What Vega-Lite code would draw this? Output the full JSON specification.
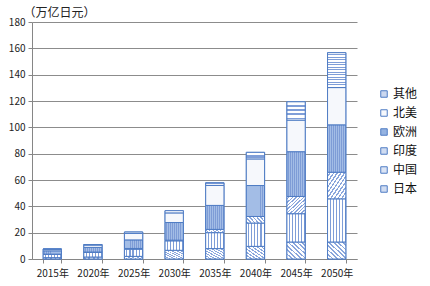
{
  "$schema": "https://vega.github.io/schema/vega-lite/v6.json",
  "autosize": {"type": "none"},
  "padding": {"left": 32, "top": 22, "right": 73, "bottom": 27},
  "width": 325,
  "height": 237,
  "background": "#ffffff",
  "config": {
    "view": {"stroke": null},
    "font": "Noto Sans CJK SC",
    "axis": {"labelFont": "Noto Sans CJK SC", "titleFont": "Noto Sans CJK SC"},
    "legend": {"labelFont": "Noto Sans CJK SC"}
  },
  "data": {
    "values": [
      {"year": "2015年", "country": "日本", "value": 1.0},
      {"year": "2015年", "country": "中国", "value": 2.5},
      {"year": "2015年", "country": "印度", "value": 0.2},
      {"year": "2015年", "country": "欧洲", "value": 2.5},
      {"year": "2015年", "country": "北美", "value": 1.2},
      {"year": "2015年", "country": "其他", "value": 0.2},
      {"year": "2020年", "country": "日本", "value": 1.5},
      {"year": "2020年", "country": "中国", "value": 3.5},
      {"year": "2020年", "country": "印度", "value": 0.3},
      {"year": "2020年", "country": "欧洲", "value": 3.5},
      {"year": "2020年", "country": "北美", "value": 1.8},
      {"year": "2020年", "country": "其他", "value": 0.4},
      {"year": "2025年", "country": "日本", "value": 2.0},
      {"year": "2025年", "country": "中国", "value": 5.5},
      {"year": "2025年", "country": "印度", "value": 0.5},
      {"year": "2025年", "country": "欧洲", "value": 6.5},
      {"year": "2025年", "country": "北美", "value": 5.0},
      {"year": "2025年", "country": "其他", "value": 1.0},
      {"year": "2030年", "country": "日本", "value": 6.6},
      {"year": "2030年", "country": "中国", "value": 7.2},
      {"year": "2030年", "country": "印度", "value": 0.5},
      {"year": "2030年", "country": "欧洲", "value": 13.4},
      {"year": "2030年", "country": "北美", "value": 7.3},
      {"year": "2030年", "country": "其他", "value": 1.7},
      {"year": "2035年", "country": "日本", "value": 7.9},
      {"year": "2035年", "country": "中国", "value": 12.1},
      {"year": "2035年", "country": "印度", "value": 2.5},
      {"year": "2035年", "country": "欧洲", "value": 18.2},
      {"year": "2035年", "country": "北美", "value": 15.2},
      {"year": "2035年", "country": "其他", "value": 2.0},
      {"year": "2040年", "country": "日本", "value": 9.6},
      {"year": "2040年", "country": "中国", "value": 17.7},
      {"year": "2040年", "country": "印度", "value": 5.0},
      {"year": "2040年", "country": "欧洲", "value": 23.5},
      {"year": "2040年", "country": "北美", "value": 20.2},
      {"year": "2040年", "country": "其他", "value": 5.0},
      {"year": "2045年", "country": "日本", "value": 12.9},
      {"year": "2045年", "country": "中国", "value": 21.5},
      {"year": "2045年", "country": "印度", "value": 13.1},
      {"year": "2045年", "country": "欧洲", "value": 34.0},
      {"year": "2045年", "country": "北美", "value": 24.0},
      {"year": "2045年", "country": "其他", "value": 13.9},
      {"year": "2050年", "country": "日本", "value": 12.9},
      {"year": "2050年", "country": "中国", "value": 32.8},
      {"year": "2050年", "country": "印度", "value": 20.2},
      {"year": "2050年", "country": "欧洲", "value": 36.0},
      {"year": "2050年", "country": "北美", "value": 28.3},
      {"year": "2050年", "country": "其他", "value": 26.5}
    ]
  },
  "transform": [
    {"calculate": "indexof(['日本','中国','印度','欧洲','北美','其他'], datum.country)", "as": "stackIndex"}
  ],
  "encoding": {
    "x": {
      "field": "year", "type": "nominal", "title": null,
      "scale": {"paddingInner": 0.55, "paddingOuter": 0.275},
      "axis": {
        "labelAngle": 0, "labelFontSize": 10, "labelColor": "#222222",
        "domainColor": "#868686", "tickColor": "#868686", "tickBand": "extent",
        "tickSize": 4, "labelPadding": 5
      }
    },
    "y": {
      "field": "value", "type": "quantitative", "stack": "zero",
      "scale": {"domain": [0, 180]},
      "axis": {
        "values": [0, 20, 40, 60, 80, 100, 120, 140, 160, 180],
        "title": "（万亿日元）", "titleAngle": 0, "titleX": -9, "titleY": -10,
        "titleAlign": "left", "titleBaseline": "middle", "titleFontSize": 12,
        "titleFontWeight": "normal", "titleColor": "#222222",
        "labelFontSize": 10, "labelColor": "#222222", "labelPadding": 3,
        "domainColor": "#868686", "tickColor": "#868686", "tickSize": 4,
        "gridColor": "#8c8c8c", "gridWidth": 1
      }
    },
    "order": {"field": "stackIndex", "type": "quantitative", "sort": "ascending"},
    "detail": {"field": "country", "type": "nominal"}
  },
  "layer": [
    {
      "mark": {"type": "bar", "stroke": "#4f7cc4", "strokeWidth": 1},
      "encoding": {
        "color": {
          "field": "country", "type": "nominal", "title": null,
          "scale": {
            "domain": ["其他", "北美", "欧洲", "印度", "中国", "日本"],
            "range": ["#ccd8ef", "#f6f8fc", "#95b3e1", "#d0dcf1", "#dbe4f4", "#d0dcf1"]
          },
          "legend": {
            "orient": "none", "legendX": 346, "legendY": 66,
            "symbolType": "square", "symbolSize": 42, "symbolStrokeColor": "#4f7cc4", "symbolStrokeWidth": 1,
            "labelFontSize": 12, "labelColor": "#111111", "rowPadding": 7, "labelOffset": 3
          }
        }
      }
    },
    {
      "mark": {"type": "bar", "stroke": "#4f7cc4", "strokeWidth": 1},
      "encoding": {
        "fill": {
          "condition": [
            {"test": "datum.country === '其他'", "value": {"gradient": "linear", "x1": 0, "y1": 0, "x2": 0, "y2": 1, "stops": [
              {"offset": 0, "color": "#ffffff"}, {"offset": 0.0429, "color": "#ffffff"}, {"offset": 0.0429, "color": "#7f9ed8"}, {"offset": 0.0714, "color": "#7f9ed8"},
              {"offset": 0.0714, "color": "#ffffff"}, {"offset": 0.1143, "color": "#ffffff"}, {"offset": 0.1143, "color": "#7f9ed8"}, {"offset": 0.1429, "color": "#7f9ed8"},
              {"offset": 0.1429, "color": "#ffffff"}, {"offset": 0.1857, "color": "#ffffff"}, {"offset": 0.1857, "color": "#7f9ed8"}, {"offset": 0.2143, "color": "#7f9ed8"},
              {"offset": 0.2143, "color": "#ffffff"}, {"offset": 0.2571, "color": "#ffffff"}, {"offset": 0.2571, "color": "#7f9ed8"}, {"offset": 0.2857, "color": "#7f9ed8"},
              {"offset": 0.2857, "color": "#ffffff"}, {"offset": 0.3286, "color": "#ffffff"}, {"offset": 0.3286, "color": "#7f9ed8"}, {"offset": 0.3571, "color": "#7f9ed8"},
              {"offset": 0.3571, "color": "#ffffff"}, {"offset": 0.4, "color": "#ffffff"}, {"offset": 0.4, "color": "#7f9ed8"}, {"offset": 0.4286, "color": "#7f9ed8"},
              {"offset": 0.4286, "color": "#ffffff"}, {"offset": 0.4714, "color": "#ffffff"}, {"offset": 0.4714, "color": "#7f9ed8"}, {"offset": 0.5, "color": "#7f9ed8"},
              {"offset": 0.5, "color": "#ffffff"}, {"offset": 0.5429, "color": "#ffffff"}, {"offset": 0.5429, "color": "#7f9ed8"}, {"offset": 0.5714, "color": "#7f9ed8"},
              {"offset": 0.5714, "color": "#ffffff"}, {"offset": 0.6143, "color": "#ffffff"}, {"offset": 0.6143, "color": "#7f9ed8"}, {"offset": 0.6429, "color": "#7f9ed8"},
              {"offset": 0.6429, "color": "#ffffff"}, {"offset": 0.6857, "color": "#ffffff"}, {"offset": 0.6857, "color": "#7f9ed8"}, {"offset": 0.7143, "color": "#7f9ed8"},
              {"offset": 0.7143, "color": "#ffffff"}, {"offset": 0.7571, "color": "#ffffff"}, {"offset": 0.7571, "color": "#7f9ed8"}, {"offset": 0.7857, "color": "#7f9ed8"},
              {"offset": 0.7857, "color": "#ffffff"}, {"offset": 0.8286, "color": "#ffffff"}, {"offset": 0.8286, "color": "#7f9ed8"}, {"offset": 0.8571, "color": "#7f9ed8"},
              {"offset": 0.8571, "color": "#ffffff"}, {"offset": 0.9, "color": "#ffffff"}, {"offset": 0.9, "color": "#7f9ed8"}, {"offset": 0.9286, "color": "#7f9ed8"},
              {"offset": 0.9286, "color": "#ffffff"}, {"offset": 0.9714, "color": "#ffffff"}, {"offset": 0.9714, "color": "#7f9ed8"}, {"offset": 1, "color": "#7f9ed8"}
            ]}},
            {"test": "datum.country === '北美'", "value": "#f6f8fc"},
            {"test": "datum.country === '欧洲'", "value": {"gradient": "linear", "x1": 0, "y1": 0, "x2": 1, "y2": 0, "stops": [
              {"offset": 0, "color": "#a3bde6"}, {"offset": 0.0667, "color": "#a3bde6"}, {"offset": 0.0667, "color": "#7e9cd6"}, {"offset": 0.1111, "color": "#7e9cd6"},
              {"offset": 0.1111, "color": "#a3bde6"}, {"offset": 0.1778, "color": "#a3bde6"}, {"offset": 0.1778, "color": "#7e9cd6"}, {"offset": 0.2222, "color": "#7e9cd6"},
              {"offset": 0.2222, "color": "#a3bde6"}, {"offset": 0.2889, "color": "#a3bde6"}, {"offset": 0.2889, "color": "#7e9cd6"}, {"offset": 0.3333, "color": "#7e9cd6"},
              {"offset": 0.3333, "color": "#a3bde6"}, {"offset": 0.4, "color": "#a3bde6"}, {"offset": 0.4, "color": "#7e9cd6"}, {"offset": 0.4444, "color": "#7e9cd6"},
              {"offset": 0.4444, "color": "#a3bde6"}, {"offset": 0.5111, "color": "#a3bde6"}, {"offset": 0.5111, "color": "#7e9cd6"}, {"offset": 0.5556, "color": "#7e9cd6"},
              {"offset": 0.5556, "color": "#a3bde6"}, {"offset": 0.6222, "color": "#a3bde6"}, {"offset": 0.6222, "color": "#7e9cd6"}, {"offset": 0.6667, "color": "#7e9cd6"},
              {"offset": 0.6667, "color": "#a3bde6"}, {"offset": 0.7333, "color": "#a3bde6"}, {"offset": 0.7333, "color": "#7e9cd6"}, {"offset": 0.7778, "color": "#7e9cd6"},
              {"offset": 0.7778, "color": "#a3bde6"}, {"offset": 0.8444, "color": "#a3bde6"}, {"offset": 0.8444, "color": "#7e9cd6"}, {"offset": 0.8889, "color": "#7e9cd6"},
              {"offset": 0.8889, "color": "#a3bde6"}, {"offset": 0.9556, "color": "#a3bde6"}, {"offset": 0.9556, "color": "#7e9cd6"}, {"offset": 1, "color": "#7e9cd6"}
            ]}},
            {"test": "datum.country === '印度'", "value": {"gradient": "linear", "x1": 0, "y1": 0, "x2": 1, "y2": 1, "stops": [
              {"offset": 0, "color": "#ffffff"}, {"offset": 0.06, "color": "#ffffff"}, {"offset": 0.06, "color": "#8aa6dc"}, {"offset": 0.1, "color": "#8aa6dc"},
              {"offset": 0.1, "color": "#ffffff"}, {"offset": 0.16, "color": "#ffffff"}, {"offset": 0.16, "color": "#8aa6dc"}, {"offset": 0.2, "color": "#8aa6dc"},
              {"offset": 0.2, "color": "#ffffff"}, {"offset": 0.26, "color": "#ffffff"}, {"offset": 0.26, "color": "#8aa6dc"}, {"offset": 0.3, "color": "#8aa6dc"},
              {"offset": 0.3, "color": "#ffffff"}, {"offset": 0.36, "color": "#ffffff"}, {"offset": 0.36, "color": "#8aa6dc"}, {"offset": 0.4, "color": "#8aa6dc"},
              {"offset": 0.4, "color": "#ffffff"}, {"offset": 0.46, "color": "#ffffff"}, {"offset": 0.46, "color": "#8aa6dc"}, {"offset": 0.5, "color": "#8aa6dc"},
              {"offset": 0.5, "color": "#ffffff"}, {"offset": 0.56, "color": "#ffffff"}, {"offset": 0.56, "color": "#8aa6dc"}, {"offset": 0.6, "color": "#8aa6dc"},
              {"offset": 0.6, "color": "#ffffff"}, {"offset": 0.66, "color": "#ffffff"}, {"offset": 0.66, "color": "#8aa6dc"}, {"offset": 0.7, "color": "#8aa6dc"},
              {"offset": 0.7, "color": "#ffffff"}, {"offset": 0.76, "color": "#ffffff"}, {"offset": 0.76, "color": "#8aa6dc"}, {"offset": 0.8, "color": "#8aa6dc"},
              {"offset": 0.8, "color": "#ffffff"}, {"offset": 0.86, "color": "#ffffff"}, {"offset": 0.86, "color": "#8aa6dc"}, {"offset": 0.9, "color": "#8aa6dc"},
              {"offset": 0.9, "color": "#ffffff"}, {"offset": 0.96, "color": "#ffffff"}, {"offset": 0.96, "color": "#8aa6dc"}, {"offset": 1, "color": "#8aa6dc"}
            ]}},
            {"test": "datum.country === '中国'", "value": {"gradient": "linear", "x1": 0, "y1": 0, "x2": 1, "y2": 0, "stops": [
              {"offset": 0, "color": "#ffffff"}, {"offset": 0.1083, "color": "#ffffff"}, {"offset": 0.1083, "color": "#7f9ed8"}, {"offset": 0.1667, "color": "#7f9ed8"},
              {"offset": 0.1667, "color": "#ffffff"}, {"offset": 0.275, "color": "#ffffff"}, {"offset": 0.275, "color": "#7f9ed8"}, {"offset": 0.3333, "color": "#7f9ed8"},
              {"offset": 0.3333, "color": "#ffffff"}, {"offset": 0.4417, "color": "#ffffff"}, {"offset": 0.4417, "color": "#7f9ed8"}, {"offset": 0.5, "color": "#7f9ed8"},
              {"offset": 0.5, "color": "#ffffff"}, {"offset": 0.6083, "color": "#ffffff"}, {"offset": 0.6083, "color": "#7f9ed8"}, {"offset": 0.6667, "color": "#7f9ed8"},
              {"offset": 0.6667, "color": "#ffffff"}, {"offset": 0.775, "color": "#ffffff"}, {"offset": 0.775, "color": "#7f9ed8"}, {"offset": 0.8333, "color": "#7f9ed8"},
              {"offset": 0.8333, "color": "#ffffff"}, {"offset": 0.9417, "color": "#ffffff"}, {"offset": 0.9417, "color": "#7f9ed8"}, {"offset": 1, "color": "#7f9ed8"}
            ]}}
          ],
          "value": {"gradient": "linear", "x1": 1, "y1": 0, "x2": 0, "y2": 1, "stops": [
            {"offset": 0, "color": "#ffffff"}, {"offset": 0.075, "color": "#ffffff"}, {"offset": 0.075, "color": "#8aa6dc"}, {"offset": 0.125, "color": "#8aa6dc"},
            {"offset": 0.125, "color": "#ffffff"}, {"offset": 0.2, "color": "#ffffff"}, {"offset": 0.2, "color": "#8aa6dc"}, {"offset": 0.25, "color": "#8aa6dc"},
            {"offset": 0.25, "color": "#ffffff"}, {"offset": 0.325, "color": "#ffffff"}, {"offset": 0.325, "color": "#8aa6dc"}, {"offset": 0.375, "color": "#8aa6dc"},
            {"offset": 0.375, "color": "#ffffff"}, {"offset": 0.45, "color": "#ffffff"}, {"offset": 0.45, "color": "#8aa6dc"}, {"offset": 0.5, "color": "#8aa6dc"},
            {"offset": 0.5, "color": "#ffffff"}, {"offset": 0.575, "color": "#ffffff"}, {"offset": 0.575, "color": "#8aa6dc"}, {"offset": 0.625, "color": "#8aa6dc"},
            {"offset": 0.625, "color": "#ffffff"}, {"offset": 0.7, "color": "#ffffff"}, {"offset": 0.7, "color": "#8aa6dc"}, {"offset": 0.75, "color": "#8aa6dc"},
            {"offset": 0.75, "color": "#ffffff"}, {"offset": 0.825, "color": "#ffffff"}, {"offset": 0.825, "color": "#8aa6dc"}, {"offset": 0.875, "color": "#8aa6dc"},
            {"offset": 0.875, "color": "#ffffff"}, {"offset": 0.95, "color": "#ffffff"}, {"offset": 0.95, "color": "#8aa6dc"}, {"offset": 1, "color": "#8aa6dc"}
          ]}
        }
      }
    }
  ]
}
